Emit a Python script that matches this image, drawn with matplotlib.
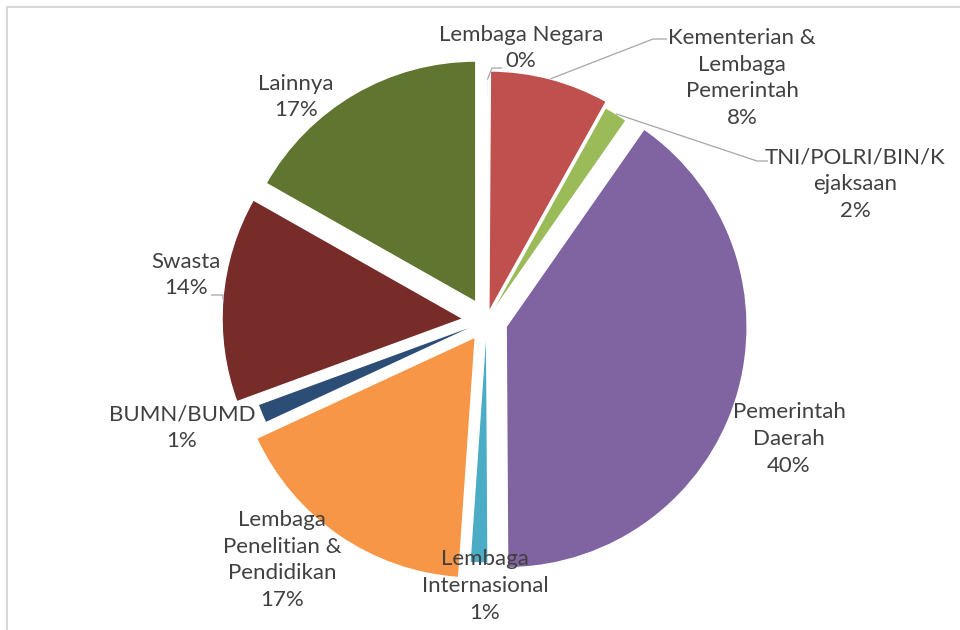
import numpy as np
import matplotlib
matplotlib.use("Agg")
import matplotlib.pyplot as plt
from matplotlib.lines import Line2D

# ----------------- DATA -----------------
kategori = [
    "Lembaga Negara",
    "Kementerian &\nLembaga\nPemerintah",
    "TNI/POLRI/BIN/K\nejaksaan",
    "Pemerintah\nDaerah",
    "Lembaga\nInternasional",
    "Lembaga\nPenelitian &\nPendidikan",
    "BUMN/BUMD",
    "Swasta",
    "Lainnya",
]
persen = [0.1, 8.0, 1.6, 40.2, 1.2, 17.0, 1.3, 13.8, 16.8]
warna = ["#4F81BD", "#C0504D", "#9BBB59", "#8064A2", "#4BACC6",
         "#F79646", "#2C4D75", "#772C2A", "#5F7530"]
# ----------------------------------------

# layout (pixel coords in the 960x630 image)
W, H = 960, 630
CX, CY, R = 486.6, 320.6, 241.0
explode = [0.0, 0.037, 0.012, 0.085, 0.006, 0.083, 0.01, 0.098, 0.089]
pos_label = [(521, 48), (742, 78), (855, 184), (789, 439), (485, 586),
             (282, 560), (182, 428), (186, 275), (296, 97)]
# leader lines: elbow and end points
leader = {0: [(492, 68), (502, 68)],
          1: [(653, 39), (667, 39)],
          2: [(757, 161), (768, 161)],
          7: [(223, 295), (211, 295)]}

TEKS = "#404040"
GARIS = "#A6A6A6"


def px(x, y):
    return (x - CX) / R, (CY - y) / R


fig = plt.figure(figsize=(9.6, 6.3), dpi=100)
ax = fig.add_axes([0, 0, 1, 1])

wedges, _ = ax.pie(persen, colors=warna, explode=explode, startangle=90,
                   counterclock=False, radius=1.0,
                   wedgeprops=dict(edgecolor="white", linewidth=1.0))

for i, (lab, p) in enumerate(zip(kategori, persen)):
    x, y = px(*pos_label[i])
    ax.text(x, y, f"{lab}\n{round(p)}%", ha="center", va="center",
            multialignment="center", fontsize=16, color=TEKS,
            family="Lato", linespacing=1.42)

for i, pts in leader.items():
    w = wedges[i]
    mid = np.deg2rad((w.theta1 + w.theta2) / 2)
    sx = w.center[0] + w.r * np.cos(mid)
    sy = w.center[1] + w.r * np.sin(mid)
    xs = [sx] + [px(*p)[0] for p in pts]
    ys = [sy] + [px(*p)[1] for p in pts]
    ax.plot(xs, ys, color=GARIS, lw=0.9, solid_capstyle="butt")

ax.set_xlim(-CX / R, (W - CX) / R)
ax.set_ylim(-(H - CY) / R, CY / R)
ax.set_aspect("auto")
ax.axis("off")

# chart border (only top and left visible)
fig.add_artist(Line2D([7 / W, 1], [1 - 7 / H, 1 - 7 / H], color="#D9D9D9",
                      lw=1.5, transform=fig.transFigure))
fig.add_artist(Line2D([7 / W, 7 / W], [0, 1 - 7 / H], color="#D9D9D9",
                      lw=1.5, transform=fig.transFigure))

fig.savefig("out.png", dpi=100, facecolor="white")
